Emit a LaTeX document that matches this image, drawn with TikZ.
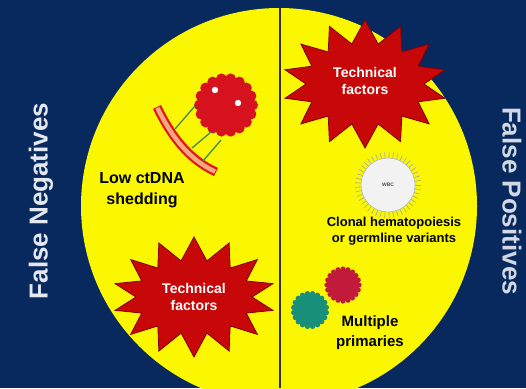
\documentclass[tikz,border=0pt]{standalone}
\usepackage{fontspec}
\setmainfont{Liberation Sans}
\usetikzlibrary{shapes.symbols}
\definecolor{navy}{HTML}{08295E}
\definecolor{sun}{HTML}{FAF700}
\definecolor{starred}{HTML}{C80808}
\definecolor{stardark}{HTML}{800008}
\definecolor{tumor}{HTML}{D5121E}
\definecolor{wall}{HTML}{E01818}
\definecolor{lumen}{HTML}{F7A77E}
\definecolor{strand}{HTML}{3F8A5A}
\definecolor{primred}{HTML}{C21A3A}
\definecolor{primteal}{HTML}{189079}
\definecolor{sidetext}{HTML}{E4E8F0}
\newcommand{\fsz}[2]{\fontsize{#1}{#2}\selectfont}
\tikzset{
  burst/.style={starburst, starburst points=14, starburst point height=23pt,
    random starburst=0, fill=starred, draw=stardark, line width=0.8pt,
    text=white, align=center, inner sep=0pt,
    font=\bfseries\fsz{14}{17}},
  bursttext/.style={text=white, align=center, font=\bfseries\fsz{14}{17}},
  label/.style={align=center, font=\bfseries\fsz{16}{21}, text=black},
  sidelabel/.style={font=\bfseries\fsz{26}{30}, text=sidetext},
  dna/.style={strand, line width=1.3pt},
}
\begin{document}
\begin{tikzpicture}[x=1pt,y=-1pt]
  \useasboundingbox (0,0) rectangle (526,388);
  \fill[navy] (0,0) rectangle (526,388);
  % yellow disc split by a vertical divider
  \begin{scope}
    \clip (0,0) rectangle (526,388);
    \fill[sun] (279,206) circle (198);
  \end{scope}
  \coordinate (divtop) at (280,8);
  \coordinate (divbot) at (280,388);
  \draw[line width=1.8pt, black!85!olive] (divtop) -- (divbot);

  % side captions
  \node[sidelabel, rotate=90] (fneg) at (41,201) {False Negatives};
  \node[sidelabel, rotate=-90, text=sidetext!92!navy] (fpos) at (512,201) {False Positives};

  % technical factor bursts
  \node[burst, minimum width=164pt, minimum height=128pt] (tstarR) at (365,84) {};
  \node[bursttext] (tstarRtext) at (365,81) {Technical\\factors};
  \node[burst, minimum width=162pt, minimum height=120pt] (tstarL) at (194,297) {Technical\\factors};

  % tumour cell shedding DNA into a vessel
  \coordinate (vA) at (157,107);
  \coordinate (vB) at (216,172);
  \draw[wall, line width=9pt] (vA) .. controls (172,138) and (190,160) .. (vB);
  \draw[lumen, line width=4.5pt, shorten <=1pt, shorten >=1pt] (vA) .. controls (172,138) and (190,160) .. (vB);
  \node[circle, fill=tumor, minimum size=52pt, inner sep=0pt] (tumour) at (226,105) {};
  \foreach \a in {0,20,...,359} {
    \fill[tumor] (tumour.center) ++(\a:26.5) circle (5.5);
  }
  \fill[white] (215,90) circle (3.2);
  \fill[white] (238,103) circle (3.2);
  \coordinate (d1a) at (195,106);
  \coordinate (d1b) at (175,129);
  \coordinate (d2a) at (211,132);
  \coordinate (d2b) at (192,148);
  \coordinate (d3a) at (221,140);
  \coordinate (d3b) at (203,161);
  \draw[dna] (d1a) -- (d1b);
  \draw[dna] (d2a) -- (d2b);
  \draw[dna] (d3a) -- (d3b);
  \node[label] (shed) at (142,190) {Low ctDNA\\shedding};

  % white blood cell
  \foreach \a in {0,8,...,359} {
    \draw[gray!70, line width=0.6pt] (388,185) ++(\a:26) -- ++(\a:7);
  }
  \node[circle, fill=gray!10, draw=gray!55, line width=0.6pt, minimum size=54pt, inner sep=0pt,
        font=\bfseries\fsz{5}{6}, text=black!70] (wbc) at (388,185) {WBC};
  \node[label, font=\bfseries\fsz{13}{15.5}] (chip) at (394,231) {Clonal hematopoiesis\\or germline variants};

  % two distinct primary tumours
  \node[circle, fill=primred, minimum size=32pt, inner sep=0pt] (primA) at (343,285) {};
  \foreach \a in {0,18,...,359} { \fill[primred] (primA.center) ++(\a:16) circle (2.6); }
  \node[circle, fill=primteal, minimum size=33pt, inner sep=0pt] (primB) at (310,310) {};
  \foreach \a in {9,27,...,368} { \fill[primteal] (primB.center) ++(\a:16.5) circle (2.7); }
  \node[label, font=\bfseries\fsz{15}{20}] (multi) at (370,333) {Multiple\\primaries};
\end{tikzpicture}
\end{document}
